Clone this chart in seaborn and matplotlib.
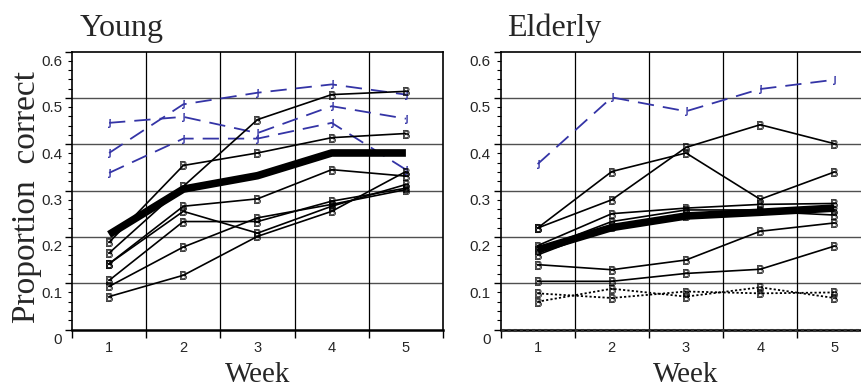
import numpy as np
import pandas as pd
import matplotlib
matplotlib.use("Agg")
import matplotlib.pyplot as plt
import matplotlib.transforms as mtransforms
import seaborn as sns

weeks = [1, 2, 3, 4, 5]
week_labels = ["1", "2", "3", "4", "5"]

# Young group: individual (black, solid), individual (blue, dashed), group mean (thick)
young_black = [
    [0.165, 0.309, 0.453, 0.507, 0.514],
    [0.188, 0.354, 0.381, 0.414, 0.423],
    [0.142, 0.266, 0.282, 0.345, 0.331],
    [0.142, 0.255, 0.208, 0.266, 0.313],
    [0.106, 0.233, 0.233, 0.277, 0.305],
    [0.093, 0.178, 0.241, 0.270, 0.302],
    [0.071, 0.117, 0.201, 0.255, 0.341],
]
young_blue = [
    [0.381, 0.486, 0.511, 0.529, 0.507],
    [0.446, 0.459, 0.424, 0.482, 0.455],
    [0.338, 0.412, 0.412, 0.446, 0.345],
]
young_mean = [0.205, 0.303, 0.332, 0.381, 0.381]

# Elderly group
elderly_black = [
    [0.219, 0.341, 0.381, 0.281, 0.340],
    [0.219, 0.280, 0.393, 0.442, 0.401],
    [0.181, 0.250, 0.262, 0.270, 0.272],
    [0.172, 0.233, 0.258, 0.258, 0.258],
    [0.161, 0.222, 0.245, 0.255, 0.247],
    [0.140, 0.129, 0.150, 0.212, 0.230],
    [0.104, 0.104, 0.121, 0.130, 0.180],
]
elderly_dotted = [
    [0.078, 0.068, 0.082, 0.078, 0.080],
    [0.060, 0.088, 0.071, 0.091, 0.068],
]
elderly_blue = [
    [0.357, 0.501, 0.471, 0.519, 0.539],
]
elderly_mean = [0.172, 0.220, 0.245, 0.253, 0.262]

sns.set_theme(style="ticks")
plt.rcParams["font.family"] = ["Liberation Sans", "DejaVu Sans"]

W, H = 862, 388
fig = plt.figure(figsize=(W / 100, H / 100), dpi=100)

BLUE = "#3434a6"
SERIF = ["Liberation Serif", "DejaVu Serif"]


def px_rect(left, top, right, bottom):
    return [left / W, (H - bottom) / H, (right - left) / W, (bottom - top) / H]


ax1 = fig.add_axes(px_rect(72, 51.5, 443, 329.5))
ax2 = fig.add_axes(px_rect(500.5, 51.5, 871.5, 329.5))

marker_b = r"$\mathsf{B}$"
marker_j = r"$\mathsf{J}$"


def draw_panel(ax, black, blue, mean, dotted=None):
    for vals in blue:
        sns.lineplot(x=weeks, y=vals, ax=ax, color=BLUE, lw=1.3,
                     linestyle=(0, (9, 5)), marker=marker_j, ms=6,
                     mfc="none", mec=BLUE, mew=0.5, zorder=3)
    for vals in black:
        sns.lineplot(x=weeks, y=vals, ax=ax, color="black", lw=1.2,
                     marker=marker_b, ms=6, mfc="none", mec="black",
                     mew=0.5, zorder=4)
    if dotted:
        for vals in dotted:
            sns.lineplot(x=weeks, y=vals, ax=ax, color="black", lw=1.3,
                         linestyle=(0, (1.2, 1.2)), marker=marker_b, ms=6,
                         mfc="none", mec="black", mew=0.5, zorder=4)
    sns.lineplot(x=weeks, y=mean, ax=ax, color="black", lw=5.5,
                 solid_capstyle="butt", zorder=5)

    ax.set_xlim(0.5, 5.5)
    ax.set_ylim(0, 0.6)
    # x: boundary ticks + gridlines, labels at week centres
    ax.set_xticks([0.5, 1.5, 2.5, 3.5, 4.5, 5.5])
    ax.set_xticklabels([])
    ax.set_xticks(weeks, minor=True)
    ax.set_xticklabels(week_labels, minor=True, fontsize=10.5)
    ax.tick_params(axis="x", which="major", direction="out", length=6,
                   width=1.0, color="black")
    ax.tick_params(axis="x", which="minor", length=0, pad=8)
    # y
    ax.set_yticks([0, 0.1, 0.2, 0.3, 0.4, 0.5, 0.6])
    ax.set_yticklabels(["0", "0.1", "0.2", "0.3", "0.4", "0.5", "0.6"],
                       fontsize=11)
    ax.set_yticks(np.arange(0, 0.601, 0.02), minor=True)
    ax.tick_params(axis="y", which="major", direction="out", length=5,
                   width=1.0, pad=2, color="black")
    ax.tick_params(axis="y", which="minor", direction="out", length=3,
                   width=0.8, color="black")
    offset = mtransforms.ScaledTranslation(0, -9 / 100, fig.dpi_scale_trans)
    for lab in ax.get_yticklabels():
        lab.set_transform(lab.get_transform() + offset)

    for y in [0.1, 0.2, 0.3, 0.4, 0.5]:
        ax.axhline(y, color="#505050", lw=1.0, zorder=1)
    for x in [1.5, 2.5, 3.5, 4.5]:
        ax.axvline(x, color="black", lw=0.9, zorder=1)

    for s in ax.spines.values():
        s.set_visible(True)
        s.set_color("black")
        s.set_linewidth(1.2)
    ax.spines["bottom"].set_linewidth(1.8)
    ax.set_xlabel("")
    ax.set_ylabel("")
    ax.set_facecolor("white")


draw_panel(ax1, young_black, young_blue, young_mean)
draw_panel(ax2, elderly_black, elderly_blue, elderly_mean, dotted=elderly_dotted)
ax2.axhline(0, color="#333333", lw=2.2, linestyle=(0, (1, 1)), zorder=6,
            clip_on=False)

fig.text(80 / W, (H - 36) / H, "Young", family=SERIF, fontsize=23,
         ha="left", va="baseline")
fig.text(507 / W, (H - 36) / H, "Elderly", family=SERIF, fontsize=23,
         ha="left", va="baseline")
fig.text(27 / W, (H - 197) / H, "Proportion  correct", family=SERIF,
         fontsize=24, rotation=90, ha="center", va="center")
fig.text(258 / W, 0.5 / H, "Week", family=SERIF, fontsize=21,
         ha="center", va="bottom")
fig.text(686 / W, 0.5 / H, "Week", family=SERIF, fontsize=21,
         ha="center", va="bottom")

fig.savefig("out.png", dpi=100, facecolor="white")
